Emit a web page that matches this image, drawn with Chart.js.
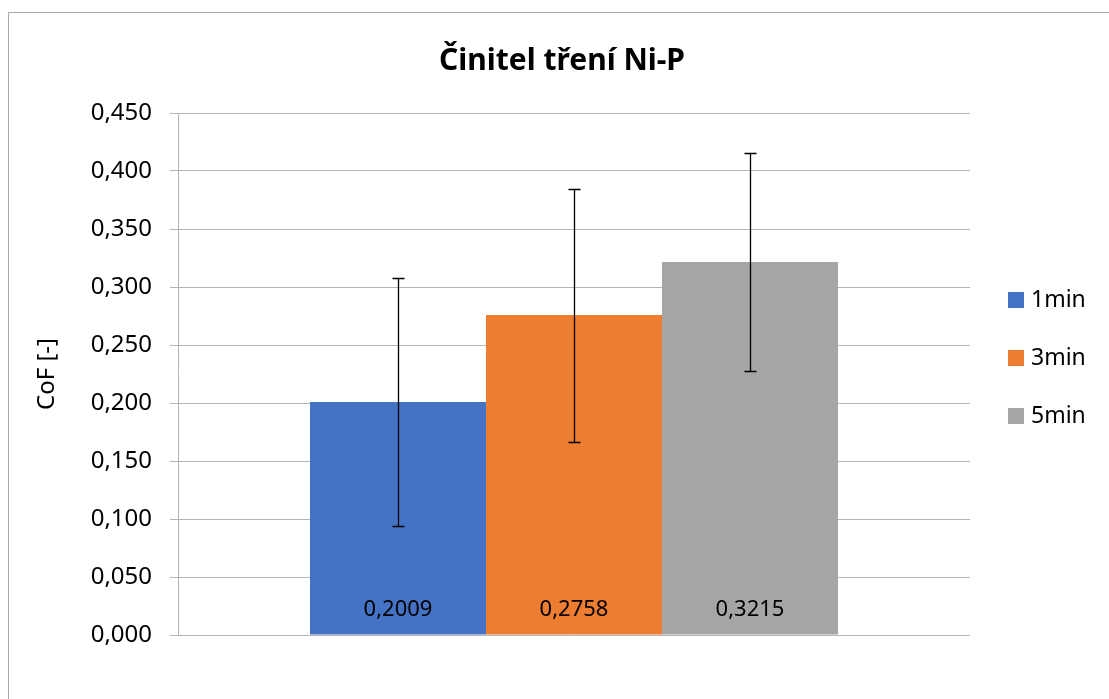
<!DOCTYPE html>
<html>
<head>
<meta charset="utf-8">
<script src="https://cdn.jsdelivr.net/npm/chart.js@4"></script>
<style>
  body { margin: 0; background: #fff; }
  #wrap { width: 1109px; height: 699px; position: relative; }
</style>
</head>
<body>
<div id="wrap"><canvas id="chart"></canvas></div>
<script>
const title = "Činitel tření Ni-P";
const yTitle = "CoF [-]";
const series = ["1min", "3min", "5min"];
const means = [0.2009, 0.2758, 0.3215];
const errors = [0.107, 0.109, 0.094];
const colors = ["#4472C4", "#ED7D31", "#A5A5A5"];

const FONT = "'Noto Sans', sans-serif";
const comma = (v, d) => v.toFixed(d).replace(".", ",");

const extras = {
  id: "extras",
  beforeDraw(chart) {
    const ctx = chart.ctx;
    ctx.save();
    ctx.strokeStyle = "#a8a8a8";
    ctx.lineWidth = 1;
    ctx.beginPath();
    ctx.moveTo(8.5, 720);
    ctx.lineTo(8.5, 12.5);
    ctx.lineTo(1120, 12.5);
    ctx.stroke();
    ctx.restore();
  },
  afterDatasetsDraw(chart) {
    const ctx = chart.ctx;
    const y = chart.scales.y;
    ctx.save();
    chart.data.datasets.forEach((ds, i) => {
      const bar = chart.getDatasetMeta(i).data[0];
      const hi = Math.round(y.getPixelForValue(means[i] + errors[i])) + 0.5;
      const lo = Math.round(y.getPixelForValue(means[i] - errors[i])) + 0.5;
      const x = Math.round(bar.x) + 0.5;
      ctx.strokeStyle = "#000";
      ctx.lineWidth = 1.3;
      ctx.beginPath();
      ctx.moveTo(x, hi);
      ctx.lineTo(x, lo);
      ctx.moveTo(x - 6, hi);
      ctx.lineTo(x + 6, hi);
      ctx.moveTo(x - 6, lo);
      ctx.lineTo(x + 6, lo);
      ctx.stroke();
      ctx.fillStyle = "#000";
      ctx.font = "22px " + FONT;
      ctx.textAlign = "center";
      ctx.textBaseline = "middle";
      ctx.fillText(comma(means[i], 4), bar.x, bar.base - 25);
    });
    ctx.restore();
  },
  afterDraw(chart) {
    const ctx = chart.ctx;
    ctx.save();
    ctx.fillStyle = "#000";
    ctx.font = "bold 30px " + FONT;
    ctx.textAlign = "center";
    ctx.textBaseline = "alphabetic";
    ctx.fillText(title, 562, 70);
    ctx.font = "23px " + FONT;
    ctx.textAlign = "left";
    ctx.textBaseline = "middle";
    series.forEach((s, i) => {
      const cy = 300 + i * 58;
      ctx.fillStyle = colors[i];
      ctx.fillRect(1008, cy - 8, 16, 16);
      ctx.fillStyle = "#000";
      ctx.fillText(s, 1031, cy);
    });
    ctx.restore();
  },
};

new Chart(document.getElementById("chart"), {
  type: "bar",
  data: {
    labels: [""],
    datasets: series.map((s, i) => ({
      label: s,
      data: [means[i]],
      backgroundColor: colors[i],
      borderWidth: 0,
      categoryPercentage: 2 / 3,
      barPercentage: 1,
    })),
  },
  options: {
    responsive: true,
    maintainAspectRatio: false,
    animation: false,
    layout: { padding: { left: 8, top: 113, right: 139, bottom: 64 } },
    plugins: {
      legend: { display: false },
      title: { display: false },
      tooltip: { enabled: false },
    },
    scales: {
      x: { display: false },
      y: {
        min: 0,
        max: 0.45,
        afterFit: (scale) => { scale.width = 170; },
        ticks: {
          stepSize: 0.05,
          padding: 18,
          color: "#000",
          font: { family: FONT, size: 24 },
          callback: (v) => comma(v, 3),
        },
        grid: { color: "#b4b4b4", lineWidth: 1, tickLength: 8 },
        border: { display: true, color: "#b4b4b4" },
        title: {
          display: true,
          text: yTitle,
          color: "#000",
          font: { family: FONT, size: 24 },
          padding: { top: 25, bottom: 0 },
        },
      },
    },
  },
  plugins: [extras],
});
</script>
</body>
</html>
